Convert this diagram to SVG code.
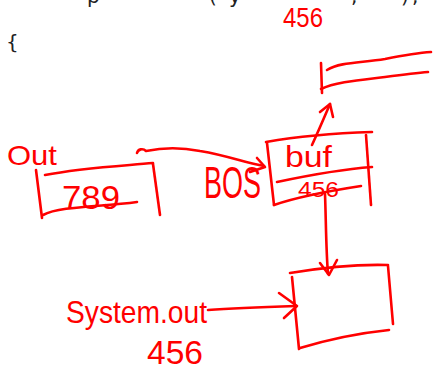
<svg xmlns="http://www.w3.org/2000/svg" width="433" height="368" viewBox="0 0 433 368">
<style>
.ink{fill:none;stroke:#ff0000;stroke-width:2.6;stroke-linecap:round;stroke-linejoin:round}
.hw{fill:#ff0000;font-family:"Liberation Sans","DejaVu Sans",sans-serif}
.code{fill:#222222;font-family:"DejaVu Sans","Liberation Sans",sans-serif;font-size:20px}
</style>
<rect width="433" height="368" fill="#ffffff"/>
<g id="code-text">
<text class="code" y="3"><tspan x="87">p</tspan><tspan x="209">(</tspan><tspan x="229">y</tspan><tspan x="351">,</tspan><tspan x="401">)</tspan><tspan x="412">;</tspan></text>
<text class="code" x="6" y="49">{</text>
</g>
<g id="label-456-top">
<text class="hw" x="283" y="27" font-size="27" textLength="40" lengthAdjust="spacingAndGlyphs">456</text>
</g>
<g id="node-top-box">
<path class="ink" d="M321,63 L322,93"/>
<path class="ink" d="M327,70 C340,62 360,63 385,59 C400,56 415,53 431,52"/>
<path class="ink" d="M321,89 C335,82 360,80 385,77 C400,75 415,73 428,72"/>
</g>
<g id="node-out">
<text class="hw" x="7" y="165" font-size="28" textLength="50" lengthAdjust="spacingAndGlyphs">Out</text>
<path class="ink" d="M45,175 C80,168 120,166 153,163"/>
<path class="ink" d="M36,170 L42,218"/>
<path class="ink" d="M43,215 C60,206 100,207 137,202"/>
<path class="ink" d="M153,164 L160,215"/>
<text class="hw" x="62" y="209" font-size="34" textLength="58" lengthAdjust="spacingAndGlyphs">789</text>
</g>
<g id="node-bos">
<text class="hw" x="204" y="198" font-size="44" textLength="57" lengthAdjust="spacingAndGlyphs">BOS</text>
<path class="ink" d="M266,142 C300,136 340,133 372,132"/>
<path class="ink" d="M267,143 L274,205"/>
<path class="ink" d="M277,182 C310,175 345,169 372,167"/>
<path class="ink" d="M274,205 C300,196 335,190 361,186"/>
<path class="ink" d="M366,135 L371,205"/>
<text class="hw" x="285" y="167" font-size="30" textLength="47" lengthAdjust="spacingAndGlyphs">buf</text>
<text class="hw" x="298" y="197" font-size="22" textLength="41" lengthAdjust="spacingAndGlyphs">456</text>
</g>
<g id="node-bottom-box">
<path class="ink" d="M290,273 C320,268 355,264 388,265"/>
<path class="ink" d="M292,277 L299,349"/>
<path class="ink" d="M300,348 C330,339 360,333 389,330"/>
<path class="ink" d="M388,266 L393,324"/>
</g>
<g id="label-system-out">
<text class="hw" x="66" y="323" font-size="32" textLength="141" lengthAdjust="spacingAndGlyphs">System.out</text>
<text class="hw" x="147" y="364" font-size="34" textLength="56" lengthAdjust="spacingAndGlyphs">456</text>
</g>
<g id="connectors">
<path class="ink" d="M312,145 C318,132 324,118 330,104"/>
<path class="ink" d="M320,112 L330,104 L333,117"/>
<path class="ink" d="M137,153 C138,149 143,148 146,151 C165,147 180,147 200,151 C230,156 245,163 264,166"/>
<path class="ink" d="M257,158 L265,167 L250,172"/>
<path class="ink" d="M325,194 C326,220 326,250 328,274"/>
<path class="ink" d="M320,263 L329,275 L337,260"/>
<path class="ink" d="M208,310 C235,308 265,307 296,306"/>
<path class="ink" d="M279,293 L297,306 L284,318"/>
</g>
</svg>
